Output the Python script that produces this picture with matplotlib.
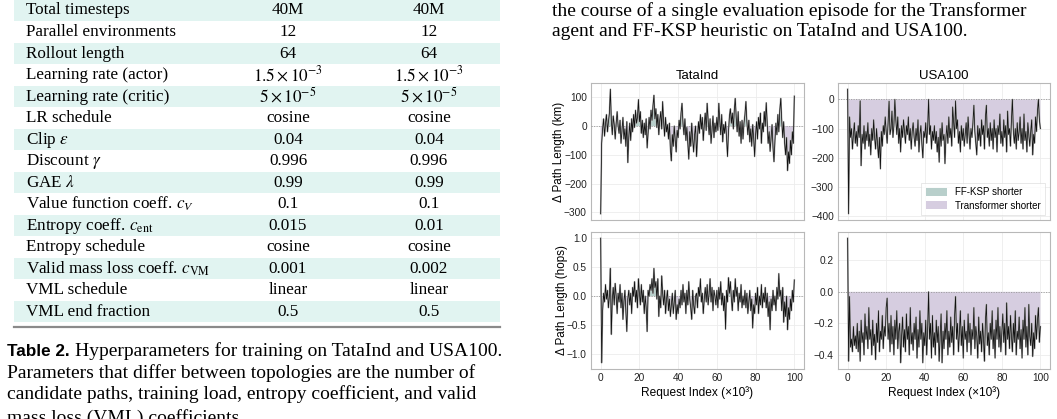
import numpy as np
import matplotlib
matplotlib.use("Agg")
import matplotlib.pyplot as plt
from matplotlib.patches import Rectangle, Patch

plt.rcParams["font.family"] = ["Liberation Sans", "DejaVu Sans"]
plt.rcParams["mathtext.fontset"] = "stix"

W, H = 1057, 419
SERIF = ["Liberation Serif", "DejaVu Serif"]
BAND = "#e1f4f1"
FF_COL = "#b8cfcb"
TR_COL = "#d6cde0"

# ---- table data --------------------------------------------------------
PARAMS = ["Total timesteps", "Parallel environments", "Rollout length",
          "Learning rate (actor)", "Learning rate (critic)", "LR schedule",
          r"Clip $\epsilon$", r"Discount $\gamma$", r"GAE $\lambda$",
          r"Value function coeff. $c_V$", r"Entropy coeff. $c_{\mathrm{ent}}$",
          "Entropy schedule", r"Valid mass loss coeff. $c_{\mathrm{VM}}$",
          "VML schedule", "VML end fraction"]
TATA_VALS = ["40M", "12", "64", r"$1.5\times10^{-3}$", r"$5\times10^{-5}$", "cosine",
             "0.04", "0.996", "0.99", "0.1", "0.015", "cosine", "0.001", "linear", "0.5"]
USA_VALS = ["40M", "12", "64", r"$1.5\times10^{-3}$", r"$5\times10^{-5}$", "cosine",
            "0.04", "0.996", "0.99", "0.1", "0.01", "cosine", "0.002", "linear", "0.5"]

# ---- episode traces (one value every 500 requests, x in thousands) -------
TATA_KM = [
    -305, -60, -10, 25, -35, 10, 40, -20, 15, 45,
    128, 20, -30, 35, 5, -45, 10, 50, 0, -25,
    20, -60, -15, 30, -45, -10, -70, 15, -127, -40,
    10, -50, 25, -20, 40, -5, 55, 10, 30, 92,
    15, 50, -25, 20, -40, 10, -30, 25, -76, -20,
    30, -10, 55, 20, 70, 107, 25, 60, -5, 40,
    -30, 20, 50, -10, 85, 15, -35, 30, -20, 5,
    -45, 10, -80, -121, -30, -70, 0, -50, -90, -15,
    -40, 20, -10, 45, 79, 10, -30, 25, -50, -5,
    -60, -115, -20, -70, 10, -45, -90, -30, 0, -106,
    -40, 15, -25, 40, -10, 30, -50, 5, 45, -15,
    79, 20, -30, 25, -60, -10, 35, -40, 10, -20,
    30, -15, 79, 20, -30, 40, -55, 5, -25, 15,
    -40, -106, -20, 35, 60, 10, 45, -10, 55, 96,
    30, -20, 50, -35, 15, -60, 20, -45, 10, 40,
    85, 15, -30, 20, -55, -10, -70, 5, -40, -106,
    -30, 15, -45, 30, -10, 45, -60, 10, -20, 50,
    0, 81, 10, -60, -20, -88, -40, 5, -75, -124,
    -50, 10, -30, 40, -20, 55, 96, 20, -40, 15,
    -60, -100, -40, -155, -90, -130, -50, -100, -20, -60,
    104]
USA_KM = [
    35, -392, -60, -130, -100, -170, -120, -80, -150, -110,
    -160, -90, -130, -5, -227, -120, -150, -90, -170, -110,
    -140, -80, -160, -120, -190, -100, -140, -70, -130, -170,
    -100, -150, -200, -130, -238, -110, -160, -90, -120, -60,
    -110, -150, -80, -6, -120, -100, -40, -130, -90, 0,
    -70, -120, -60, -150, -100, -180, -90, -130, -70, -110,
    -150, -90, -120, -60, -140, -100, -170, -110, -80, -130,
    -160, -100, -140, -70, -180, -120, -90, -150, -200, -110,
    -130, -80, -150, -100, 0, -120, -90, -170, -110, -140,
    -90, -150, -110, -180, -130, -215, -100, -160, -80, -140,
    -120, -220, -130, -90, -150, -60, -130, -100, -160, -26,
    -80, -130, -5, -100, -70, -150, -110, -180, -90, -140,
    -100, -160, -120, -80, -150, -60, -120, -170, -100, -130,
    -80, -20, -110, -150, -190, -90, -140, -100, -160, -70,
    -120, -90, -170, -60, -20, -130, -100, -160, -80, -140,
    -100, -170, -70, -130, -100, -180, -90, -120, -50, -150,
    -110, -160, -70, -130, -90, -180, -40, -120, -100, -160,
    -70, 0, -110, -150, -100, -170, -80, -140, -110, -60,
    -150, -100, -170, -50, -140, -110, -180, -80, -120, -160,
    -110, -70, -190, -120, -150, -60, -110, -40, 0, -70,
    -100]
TATA_HOPS = [
    1.0, -1.15, -0.25, 0.05, -0.1, 0.2, -0.05, 0.1, -0.2, 0.0,
    0.48, -0.66, -0.05, 0.15, -0.15, 0.22, 0.0, -0.3, 0.05, -0.1,
    0.2, -0.2, 0.05, -0.4, -0.1, 0.1, -0.25, -0.61, -0.05, 0.1,
    -0.15, 0.05, -0.3, 0.15, 0.0, 0.25, -0.1, 0.1, -0.2, 0.3,
    0.05, -0.15, 0.2, -0.1, 0.1, -0.3, 0.0, -0.2, -0.61, 0.1,
    0.0, 0.2, 0.1, 0.3, 0.05, 0.48, 0.15, 0.25, -0.05, 0.3,
    -0.35, 0.0, -0.2, 0.35, 0.05, -0.15, 0.1, -0.3, -0.05, 0.1,
    -0.25, -0.05, -0.35, -0.15, 0.05, -0.3, -0.1, 0.1, -0.4, -0.15,
    -0.3, -0.05, -0.2, 0.1, -0.15, 0.2, -0.1, 0.05, -0.3, 0.1,
    -0.15, 0.25, -0.05, -0.2, -0.4, 0.1, -0.15, -0.3, 0.0, 0.05,
    -0.2, 0.15, 0.0, 0.3, -0.1, 0.05, -0.3, -0.05, 0.15, -0.1,
    0.2, -0.15, 0.05, 0.3, -0.1, 0.15, -0.25, 0.1, 0.0, -0.15,
    0.1, -0.2, 0.15, -0.05, 0.25, -0.15, 0.05, -0.25, 0.0, -0.57,
    0.1, -0.1, 0.32, 0.05, 0.25, -0.05, -0.25, 0.1, -0.1, 0.3,
    0.0, 0.15, -0.25, 0.05, -0.1, 0.2, -0.2, 0.0, -0.15, 0.1,
    -0.2, 0.05, -0.3, -0.1, 0.1, -0.25, -0.05, -0.55, -0.15, -0.3,
    0.05, -0.15, 0.15, -0.3, 0.0, -0.15, 0.2, -0.2, 0.05, -0.1,
    0.15, -0.2, 0.05, -0.35, -0.1, -0.58, -0.05, -0.25, 0.1, -0.15,
    0.0, -0.25, 0.15, -0.05, 0.39, 0.0, 0.1, -0.25, 0.15, -0.45,
    -0.1, -0.35, 0.0, -0.58, -0.2, -0.4, -0.05, -0.25, 0.1, -0.1,
    0.28]
USA_HOPS = [
    0.34, -0.44, -0.03, -0.35, -0.3, -0.38, -0.22, -0.34, -0.28, -0.36,
    -0.2, -0.38, -0.25, -0.44, -0.18, -0.32, -0.26, -0.4, -0.14, -0.3,
    -0.22, -0.36, -0.1, -0.3, -0.24, -0.4, -0.18, -0.34, -0.27, -0.43,
    -0.2, -0.32, -0.12, -0.38, -0.25, -0.3, -0.15, -0.36, -0.22, -0.28,
    -0.1, -0.04, -0.3, -0.2, -0.38, -0.15, -0.33, -0.22, -0.4, -0.18,
    -0.3, -0.12, -0.36, -0.25, -0.2, -0.45, -0.28, -0.16, -0.35, -0.24,
    -0.38, -0.14, -0.3, -0.22, -0.4, -0.1, -0.33, -0.26, -0.37, -0.2,
    -0.3, -0.16, -0.42, -0.24, -0.35, -0.12, -0.3, -0.2, -0.45, -0.26,
    -0.34, -0.18, -0.4, -0.24, 0.0, -0.3, -0.2, -0.42, -0.15, -0.35,
    -0.26, -0.4, -0.18, -0.32, -0.22, -0.44, -0.28, -0.14, -0.45, -0.25,
    -0.36, -0.2, -0.3, -0.12, -0.4, -0.25, -0.35, -0.16, -0.32, -0.22,
    -0.4, -0.15, -0.03, -0.3, -0.2, -0.38, -0.26, -0.12, -0.34, -0.22,
    -0.42, -0.18, -0.3, -0.25, -0.38, -0.14, -0.32, -0.2, -0.4, -0.24,
    -0.3, -0.1, -0.36, -0.22, -0.28, -0.42, -0.16, -0.33, -0.25, -0.38,
    -0.2, -0.3, -0.44, -0.18, -0.08, -0.34, -0.26, -0.4, -0.2, -0.3,
    -0.12, -0.36, -0.24, -0.42, -0.18, -0.3, -0.1, -0.35, -0.22, -0.38,
    -0.26, -0.14, -0.32, -0.2, -0.4, -0.07, -0.3, -0.22, -0.36, -0.15,
    -0.28, -0.38, -0.2, -0.32, -0.12, -0.4, -0.25, -0.3, -0.16, -0.36,
    -0.24, -0.42, -0.18, -0.3, -0.1, -0.35, -0.22, -0.4, -0.08, -0.28,
    -0.34, -0.2, -0.41, -0.26, -0.36, -0.15, -0.3, -0.18, -0.1, -0.32,
    -0.22]
REQ_K = np.linspace(0, 100, len(TATA_KM))

fig = plt.figure(figsize=(W / 100, H / 100), dpi=100)

# page background in pixel coordinates
bg = fig.add_axes([0, 0, 1, 1])
bg.set_xlim(0, W)
bg.set_ylim(H, 0)
bg.axis("off")

row_h = 21.5
for i, (p, a, b) in enumerate(zip(PARAMS, TATA_VALS, USA_VALS)):
    yc = 10.5 + i * row_h
    if i % 2 == 0:
        bg.add_patch(Rectangle((14, yc - row_h / 2), 486, row_h,
                               facecolor=BAND, edgecolor="none"))
    bg.text(26, yc, p, fontsize=12.3, family=SERIF, va="center", ha="left")
    bg.text(288, yc, a, fontsize=12.3, family=SERIF, va="center", ha="center")
    bg.text(429, yc, b, fontsize=12.3, family=SERIF, va="center", ha="center")
bg.plot([14, 500], [327, 327], color="#8a8a8a", lw=1.6)

cap_fs = 14.0
bg.text(7, 351.5, "Table 2.", fontsize=12.3, fontweight="bold", va="center")
bg.text(75, 351.5, "Hyperparameters for training on TataInd and USA100.",
        fontsize=cap_fs, family=SERIF, va="center")
bg.text(7, 373, "Parameters that differ between topologies are the number of",
        fontsize=cap_fs, family=SERIF, va="center")
bg.text(7, 394.5, "candidate paths, training load, entropy coefficient, and valid",
        fontsize=cap_fs, family=SERIF, va="center")
bg.text(7, 418, "mass loss (VML) coefficients.",
        fontsize=cap_fs, family=SERIF, va="center")
bg.text(552, 11, "the course of a single evaluation episode for the Transformer",
        fontsize=cap_fs, family=SERIF, va="center")
bg.text(552, 32, "agent and FF-KSP heuristic on TataInd and USA100.",
        fontsize=cap_fs, family=SERIF, va="center")


def px_axes(x0, x1, top, bottom):
    return fig.add_axes([x0 / W, (H - bottom) / H, (x1 - x0) / W, (bottom - top) / H])


def panel(ax, y, xlabels):
    y = np.asarray(y, dtype=float)
    ax.fill_between(REQ_K, 0, y, where=y > 0, interpolate=True,
                    color=FF_COL, lw=0, zorder=2)
    ax.fill_between(REQ_K, 0, y, where=y < 0, interpolate=True,
                    color=TR_COL, lw=0, zorder=2)
    ax.axhline(0, color="#9a9a9a", lw=0.6, ls=(0, (1.5, 1.5)), zorder=3)
    ax.plot(REQ_K, y, color="#b4b4b4", lw=1.2, zorder=4)
    ax.plot(REQ_K, y, color="#111111", lw=0.55, zorder=5)
    ax.set_xticks([0, 20, 40, 60, 80, 100])
    ax.grid(True, color="#ececec", lw=0.6, zorder=0)
    ax.set_axisbelow(True)
    for s in ax.spines.values():
        s.set_color("#b8b8b8")
        s.set_linewidth(0.8)
    ax.tick_params(length=0, labelsize=7.3, pad=3, colors="#222222")
    if not xlabels:
        ax.set_xticklabels([])
    else:
        ax.set_xlabel("Request Index (×10³)", fontsize=8.6, labelpad=2)


ax_tk = px_axes(591, 804, 83, 220)
ax_uk = px_axes(838, 1050, 83, 220)
ax_th = px_axes(591, 804, 232, 369)
ax_uh = px_axes(838, 1050, 232, 369)

panel(ax_tk, TATA_KM, False)
panel(ax_uk, USA_KM, False)
panel(ax_th, TATA_HOPS, True)
panel(ax_uh, USA_HOPS, True)

ax_tk.set_yticks([100, 0, -100, -200, -300])
ax_uk.set_yticks([0, -100, -200, -300, -400])
ax_th.set_yticks([1.0, 0.5, 0.0, -0.5, -1.0])
ax_uh.set_yticks([0.2, 0.0, -0.2, -0.4])

ax_tk.set_title("TataInd", fontsize=9.5, pad=3)
ax_uk.set_title("USA100", fontsize=9.5, pad=3)
ax_tk.set_ylabel("Δ Path Length (km)", fontsize=8.4, labelpad=-1)
ax_th.set_ylabel("Δ Path Length (hops)", fontsize=8.4, labelpad=-1)

handles = [Patch(facecolor=FF_COL, edgecolor="none", label="FF-KSP shorter"),
           Patch(facecolor=TR_COL, edgecolor="none", label="Transformer shorter")]
leg = ax_uk.legend(handles=handles, loc="lower right", fontsize=7,
                   frameon=True, fancybox=False, handlelength=2.2,
                   handleheight=0.9, borderpad=0.45, labelspacing=0.35,
                   bbox_to_anchor=(1.0, 0.0))
leg.get_frame().set_edgecolor("#dddddd")
leg.get_frame().set_linewidth(0.6)

fig.savefig("out.png", dpi=100)
